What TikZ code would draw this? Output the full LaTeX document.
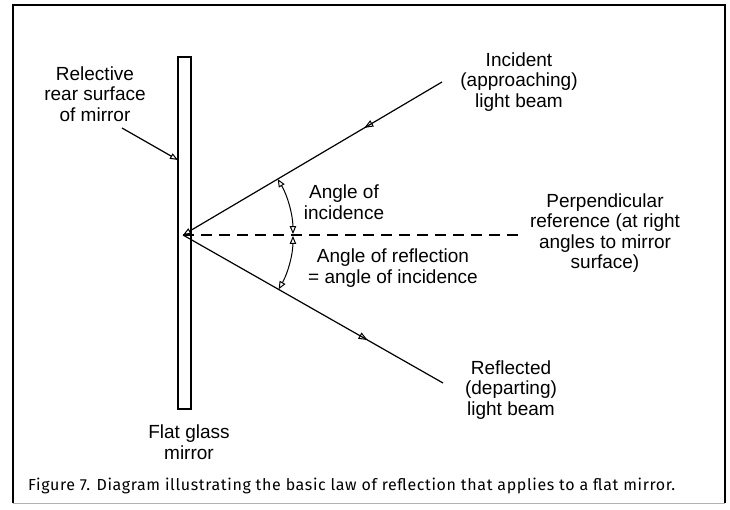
\documentclass[tikz,border=0pt]{standalone}
\usepackage{fontspec}
\setmainfont{Liberation Sans}
\newfontfamily\capfont[LetterSpace=4]{Fira Sans}
\usetikzlibrary{arrows.meta,decorations.markings}
\tikzset{
  lbl/.style={align=center, inner sep=0pt, font=\fontsize{19}{20.5}\selectfont},
  beam/.style={line width=1.2pt},
  midarrow/.style={postaction={decorate},decoration={markings,
     mark=at position #1 with {\arrow{Triangle[open,length=9pt,width=7pt,line width=1pt]}}}},
  arctips/.style={line width=1pt, {Triangle[open,length=8pt,width=6.5pt,line width=1pt]}-{Triangle[open,length=8pt,width=6.5pt,line width=1pt]}},
}
\begin{document}
\begin{tikzpicture}[x=1pt,y=-1pt]
\useasboundingbox (0,0) rectangle (730,510);
% frame
\draw[line width=2.5pt] (12,5) -- (726,5);
\draw[line width=2pt] (13,4) -- (13,503);
\draw[line width=2pt] (725,4) -- (725,503);
\draw[line width=0.5pt, black!30] (13,503) -- (725,503);
% mirror
\node[draw, line width=1.4pt, minimum width=13pt, minimum height=352pt, inner sep=0pt] (mirror) at (184.5,233) {};
% key points
\coordinate (V) at (183,235);
\coordinate (I) at (442,82);
\coordinate (R) at (443,383);
\coordinate (D) at (525,235);
\coordinate (S) at (178,160);
% beams
\draw[beam, midarrow=0.3, -{Triangle[open,length=8pt,width=6pt,line width=1pt]}] (I) -- (V);
\draw[beam, midarrow=0.71] (V) -- (R);
\draw[line width=1.2pt, dash pattern=on 11pt off 7pt] (V) -- (D);
% angle arcs
\draw[arctips] ([shift={(30.6:110pt)}]V) arc[start angle=30.6, end angle=0.5, radius=110pt];
\draw[arctips] ([shift={(-0.5:110pt)}]V) arc[start angle=-0.5, end angle=-29.6, radius=110pt];
% labels
\node[lbl] (rear) at (95,94) {Relective\\rear surface\\of mirror};
\draw[line width=1.2pt, -{Triangle[open,length=8pt,width=6pt,line width=1pt]}] (122,128) -- (S);
\node[lbl] (inc) at (519,82) {Incident\\(approaching)\\light beam};
\node[lbl] (aoi) at (344,202) {Angle of\\incidence};
\node[lbl] (perp) at (605,233) {Perpendicular\\reference (at right\\angles to mirror\\surface)};
\node[lbl] (aor) at (393,268) {Angle of reflection\\= angle of incidence};
\node[lbl] (refl) at (511,390) {Reflected\\(departing)\\light beam};
\node[lbl] (flat) at (189,442) {Flat glass\\mirror};
\node[anchor=west, inner sep=0pt, font=\capfont\fontsize{16}{18}\selectfont] (cap) at (28,486)
  {Figure 7. Diagram illustrating the basic law of reflection that applies to a flat mirror.};
\end{tikzpicture}
\end{document}
